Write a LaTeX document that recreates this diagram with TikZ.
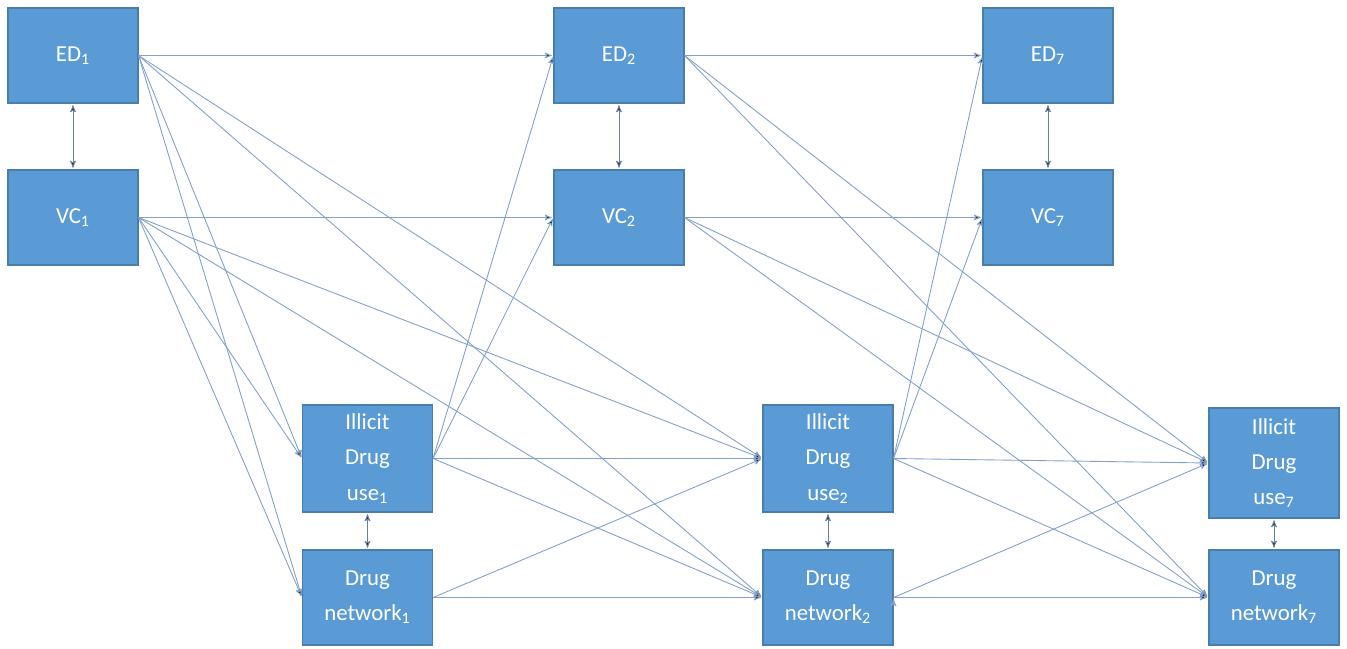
\documentclass[tikz,border=0pt]{standalone}
\usepackage{fontspec}
\setmainfont{Carlito}
\usepackage{tikz}
\usetikzlibrary{arrows,positioning}
\definecolor{boxfill}{RGB}{91,155,213}
\definecolor{boxline}{RGB}{75,125,170}
\definecolor{linkcol}{RGB}{130,160,200}
\tikzset{>=stealth',shorten >=1pt,auto}
\tikzset{var/.style={rectangle,fill=boxfill,draw=boxline,line width=0.6pt,
    text=white,align=center,minimum width=26mm,minimum height=19mm,
    inner sep=1pt,font=\fontsize{13}{20}\selectfont}}
\tikzset{link/.style={->,draw=linkcol,line width=0.5pt}}
\tikzset{both/.style={<->,draw=linkcol!80!black,line width=0.5pt,shorten <=1pt}}

\begin{document}
\begin{tikzpicture}[x=0.2mm,y=-0.2mm]
        \useasboundingbox (0,0) rectangle (1347,649);

        % wave 1
        \node[var] (ed1)  at (73,55.5)    {ED\textsubscript{1}};
        \node[var] (vc1)  at (73,217.5)   {VC\textsubscript{1}};
        \node[var,minimum height=21.4mm] (idu1) at (367.5,458.5) {Illicit\\Drug\\use\textsubscript{1}};
        \node[var] (dn1)  at (367.5,597.5) {Drug\\network\textsubscript{1}};
        % wave 2
        \node[var] (ed2)  at (619,55.5)   {ED\textsubscript{2}};
        \node[var] (vc2)  at (619,217.5)  {VC\textsubscript{2}};
        \node[var,minimum height=21.4mm] (idu2) at (828,458.5) {Illicit\\Drug\\use\textsubscript{2}};
        \node[var] (dn2)  at (828,597.5)  {Drug\\network\textsubscript{2}};
        % wave 7
        \node[var] (ed7)  at (1048,55.5)  {ED\textsubscript{7}};
        \node[var] (vc7)  at (1048,217.5) {VC\textsubscript{7}};
        \node[var,minimum height=22mm] (idu7) at (1274,463) {Illicit\\Drug\\use\textsubscript{7}};
        \node[var] (dn7)  at (1274,597.5) {Drug\\network\textsubscript{7}};

        \path[both]
            (ed1)  edge (vc1)
            (ed2)  edge (vc2)
            (ed7)  edge (vc7)
            (idu1) edge (dn1)
            (idu2) edge (dn2)
            (idu7) edge (dn7)
            ;
        \path[link]
            (ed1.east)  edge (ed2.west)
            (ed1.east)  edge (idu1.west)
            (ed1.east)  edge (dn1.west)
            (ed1.east)  edge (idu2.west)
            (ed1.east)  edge (dn2.west)
            (vc1.east)  edge (vc2.west)
            (vc1.east)  edge (idu1.west)
            (vc1.east)  edge (dn1.west)
            (vc1.east)  edge (idu2.west)
            (vc1.east)  edge (dn2.west)
            (idu1.east) edge (ed2.west)
            (idu1.east) edge (vc2.west)
            (idu1.east) edge (idu2.west)
            (idu1.east) edge (dn2.west)
            (dn1.east)  edge (idu2.west)
            (dn1.east)  edge (dn2.west)
            (ed2.east)  edge (ed7.west)
            (ed2.east)  edge (idu7.west)
            (ed2.east)  edge (dn7.west)
            (vc2.east)  edge (vc7.west)
            (vc2.east)  edge (idu7.west)
            (vc2.east)  edge (dn7.west)
            (idu2.east) edge (ed7.west)
            (idu2.east) edge (vc7.west)
            (idu2.east) edge (idu7.west)
            (idu2.east) edge (dn7.west)
            (dn2.east)  edge (idu7.west)
            (dn2.east)  edge (dn7.west)
            ;
\end{tikzpicture}
\end{document}
